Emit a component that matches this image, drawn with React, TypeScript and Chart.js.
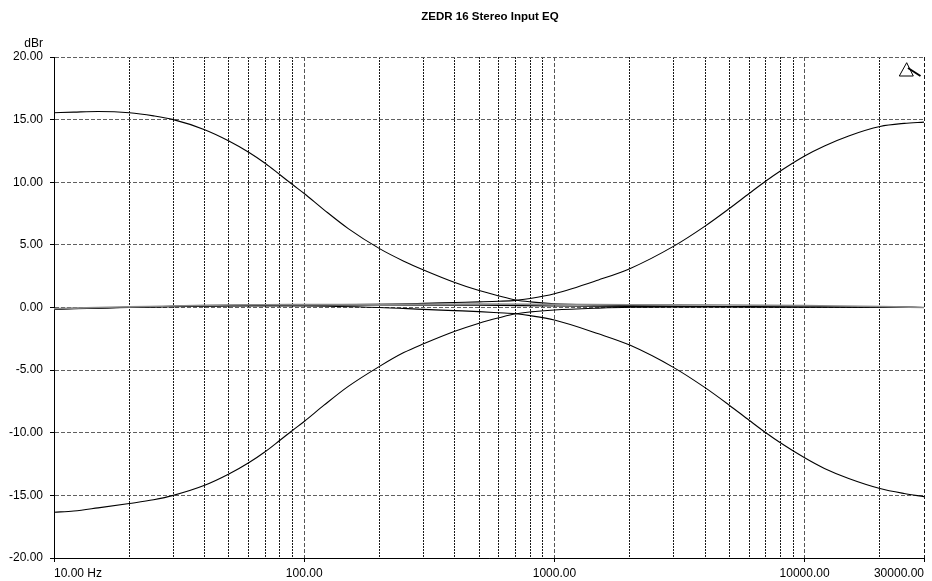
import React, { useEffect, useRef } from "react";
import { Chart, registerables } from "chart.js";

Chart.register(...registerables);

const TITLE = "ZEDR 16 Stereo Input EQ";
const Y_UNIT = "dBr";

const X_GRID_TICKS = [
  10, 20, 30, 40, 50, 60, 70, 80, 90,
  100, 200, 300, 400, 500, 600, 700, 800, 900,
  1000, 2000, 3000, 4000, 5000, 6000, 7000, 8000, 9000,
  10000, 20000, 30000,
];
const X_LABELS: Record<number, string> = {
  10: "10.00 Hz",
  100: "100.00",
  1000: "1000.00",
  10000: "10000.00",
  30000: "30000.00",
};

const BASS_FREQ = [10, 12, 15, 20, 25, 30, 40, 50, 60, 70, 80, 90, 100, 120, 150, 200, 250, 300, 400, 500, 600, 700, 800, 1000, 1500, 2000, 3000, 5000, 10000, 20000, 30000];
const BASS_BOOST = [15.55, 15.6, 15.65, 15.55, 15.3, 15.0, 14.2, 13.3, 12.4, 11.5, 10.6, 9.8, 9.1, 7.8, 6.3, 4.7, 3.7, 3.0, 2.0, 1.35, 0.92, 0.6, 0.45, 0.3, 0.2, 0.15, 0.12, 0.08, 0.05, 0.03, 0.0];
const BASS_CUT = [-16.35, -16.25, -16.0, -15.65, -15.35, -15.0, -14.2, -13.3, -12.4, -11.5, -10.6, -9.8, -9.1, -7.8, -6.3, -4.7, -3.6, -2.9, -1.9, -1.25, -0.82, -0.5, -0.35, -0.2, -0.05, 0.02, 0.05, 0.06, 0.05, 0.03, 0.0];

const TREBLE_FREQ = [10, 20, 50, 100, 200, 300, 400, 500, 600, 700, 800, 1000, 1500, 2000, 3000, 4000, 5000, 6000, 7000, 8000, 10000, 12000, 15000, 20000, 25000, 30000];
const TREBLE_BOOST = [-0.1, 0.02, 0.15, 0.2, 0.25, 0.33, 0.4, 0.45, 0.5, 0.57, 0.72, 1.1, 2.2, 3.1, 4.9, 6.5, 7.9, 9.1, 10.1, 10.9, 12.1, 12.9, 13.7, 14.45, 14.7, 14.8];
const TREBLE_CUT = [-0.12, 0.0, 0.12, 0.12, 0.0, -0.15, -0.25, -0.33, -0.42, -0.5, -0.65, -1.0, -2.1, -3.0, -4.8, -6.4, -7.8, -9.0, -10.0, -10.8, -12.0, -12.85, -13.65, -14.45, -14.85, -15.1];

const FLAT_FREQ = [10, 12, 15, 20, 30, 40, 50, 70, 100, 200, 500, 1000, 2000, 5000, 10000, 20000, 30000];
const FLAT_A = [-0.15, -0.1, -0.05, 0.02, 0.1, 0.15, 0.18, 0.2, 0.2, 0.2, 0.18, 0.12, 0.08, 0.05, 0.05, 0.05, 0.0];
const FLAT_B = [-0.1, -0.05, 0.0, 0.05, 0.12, 0.17, 0.2, 0.22, 0.23, 0.25, 0.27, 0.25, 0.22, 0.2, 0.15, 0.08, 0.0];

const toPts = (xs: number[], ys: number[]) => xs.map((x, i) => ({ x, y: ys[i] }));

const FONT = "'Liberation Sans', Arial, sans-serif";

const decorPlugin = {
  id: "decor",
  afterDraw(chart: any) {
    const { ctx, chartArea } = chart;
    ctx.save();
    ctx.fillStyle = "#000";
    ctx.font = `bold 11.5px ${FONT}`;
    ctx.textAlign = "center";
    ctx.textBaseline = "alphabetic";
    ctx.fillText(TITLE, (chartArea.left + chartArea.right) / 2 + 1, 20);
    ctx.font = `12px ${FONT}`;
    ctx.textAlign = "right";
    ctx.fillText(Y_UNIT, chartArea.left - 11, 47);
    // analyzer marker
    const r = chartArea.right;
    const t = chartArea.top;
    ctx.strokeStyle = "#000";
    ctx.lineWidth = 1;
    ctx.beginPath();
    ctx.moveTo(r - 17.3, t + 5.7);
    ctx.lineTo(r - 24.7, t + 19);
    ctx.lineTo(r - 10.7, t + 19);
    ctx.closePath();
    ctx.stroke();
    ctx.lineWidth = 2;
    ctx.beginPath();
    ctx.moveTo(r - 16, t + 11);
    ctx.lineTo(r - 3.5, t + 19);
    ctx.stroke();
    ctx.restore();
  },
};

export default function App() {
  const ref = useRef<HTMLCanvasElement | null>(null);
  useEffect(() => {
    if (!ref.current) return;
    const line = (data: any, color = "#000", width = 1.1) => ({
      data,
      borderColor: color,
      borderWidth: width,
      pointRadius: 0,
      fill: false,
      cubicInterpolationMode: "monotone" as const,
    });
    const chart = new Chart(ref.current, {
      type: "line",
      data: {
        datasets: [
          line(toPts(FLAT_FREQ, FLAT_B), "#8a8a8a", 1.6),
          line(toPts(FLAT_FREQ, FLAT_A)),
          line(toPts(BASS_FREQ, BASS_BOOST)),
          line(toPts(BASS_FREQ, BASS_CUT)),
          line(toPts(TREBLE_FREQ, TREBLE_BOOST)),
          line(toPts(TREBLE_FREQ, TREBLE_CUT)),
        ],
      },
      options: {
        animation: false,
        responsive: false,
        maintainAspectRatio: false,
        layout: { padding: { top: 57, right: 8, left: 0, bottom: 0 } },
        plugins: { legend: { display: false }, tooltip: { enabled: false }, title: { display: false } },
        scales: {
          x: {
            type: "logarithmic",
            min: 10,
            max: 30000,
            afterBuildTicks: (scale: any) => {
              scale.ticks = X_GRID_TICKS.map((v) => ({ value: v }));
            },
            afterFit: (scale: any) => {
              scale.height = 23;
            },
            ticks: {
              autoSkip: false,
              maxRotation: 0,
              align: "inner",
              padding: 4,
              color: "#000",
              font: { family: FONT, size: 12 },
              callback: (v: any) => X_LABELS[Number(v)] ?? "",
            },
            grid: {
              color: (c: any) => ([100, 1000, 10000].includes(c.tick?.value) ? "#555" : "#1a1a1a"),
              lineWidth: 1,
              tickLength: 4,
              tickColor: (c: any) => (X_LABELS[c.tick?.value] ? "#000" : "transparent"),
            },
            border: {
              display: true,
              color: "#000",
              width: 1,
              dash: (c: any) => ([100, 1000, 10000, 30000].includes(c.tick?.value) ? [4, 2] : [2, 1]),
            },
          },
          y: {
            type: "linear",
            min: -20,
            max: 20,
            afterFit: (scale: any) => {
              scale.width = 54;
            },
            ticks: {
              stepSize: 5,
              padding: 7,
              color: "#000",
              font: { family: FONT, size: 12 },
              callback: (v: any) => Number(v).toFixed(2),
            },
            grid: {
              color: "#606060",
              lineWidth: 1,
              tickLength: 4,
              tickColor: "#000",
            },
            border: { display: true, color: "#000", width: 1, dash: [4, 2] },
          },
        },
      },
      plugins: [decorPlugin],
    } as any);
    return () => chart.destroy();
  }, []);
  return (
    <div style={{ position: "fixed", left: 0, top: 0, width: 932, height: 581, background: "#fff" }}>
      <canvas ref={ref} width={932} height={581} style={{ width: 932, height: 581 }} />
    </div>
  );
}
